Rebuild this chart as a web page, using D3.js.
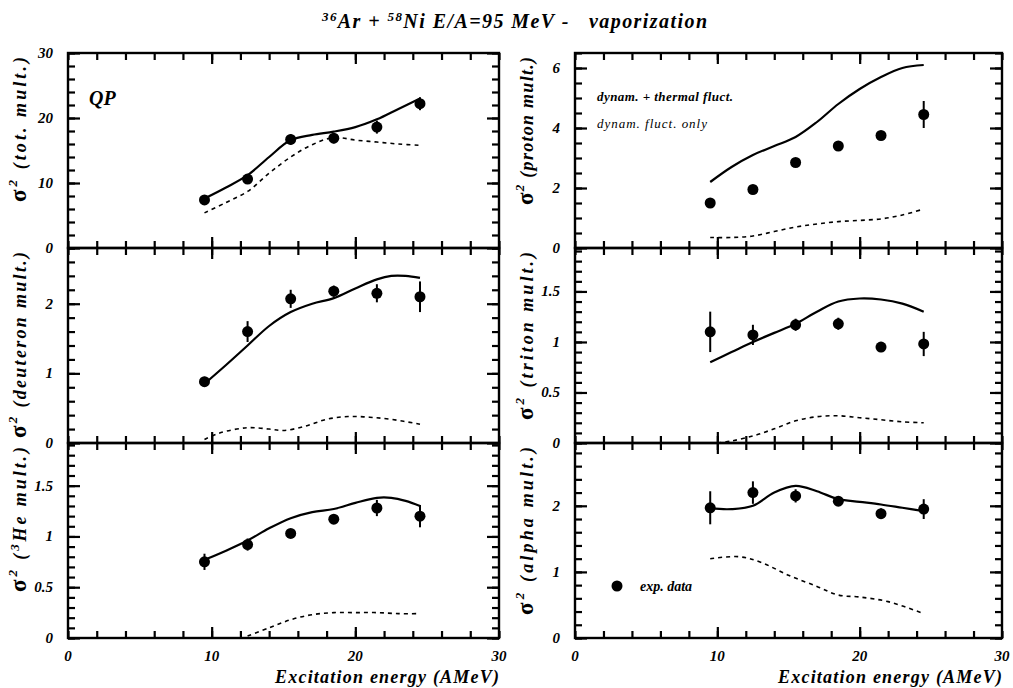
<!DOCTYPE html>
<html><head><meta charset="utf-8">
<script src="https://cdn.jsdelivr.net/npm/d3@7"></script>
<style>
body{margin:0;background:#fff;}
svg{display:block;}
text{font-family:"Liberation Serif","DejaVu Serif",serif;font-weight:bold;font-style:italic;fill:#000;}
</style></head><body>
<svg id="c" width="1013" height="688"></svg>
<script>
// ---------- data ----------
const xTickLabels = [0, 10, 20, 30];
const expEnergy = [9.5, 12.5, 15.5, 18.5, 21.5, 24.5];

const totMult = [7.4, 10.6, 16.7, 16.9, 18.6, 22.2];
const totErr = [0.7, 0.7, 0.8, 0.8, 1.0, 1.0];
const totFullE = [9.5, 11, 12.5, 14, 15.5, 17, 18.5, 20, 21.5, 23, 24.5];
const totFull = [7.6, 9.3, 11.2, 14.0, 16.6, 17.4, 17.9, 18.6, 19.8, 21.4, 23.0];
const totDynE = [9.5, 11, 12.5, 14, 15.5, 17, 18.5, 20, 21.5, 23, 24.5];
const totDyn = [5.4, 7.0, 8.7, 11.5, 14.0, 15.9, 17.0, 16.6, 16.3, 16.0, 15.8];

const protonMult = [1.5, 1.95, 2.85, 3.4, 3.75, 4.45];
const protonErr = [0.15, 0.12, 0.12, 0.12, 0.15, 0.45];
const protonFullE = [9.5, 11, 12.5, 14, 15.5, 17, 18.5, 20, 21.5, 23, 24.5];
const protonFull = [2.2, 2.7, 3.1, 3.4, 3.7, 4.2, 4.8, 5.3, 5.7, 6.0, 6.1];
const protonDynE = [9.5, 11, 12.5, 14, 15.5, 17, 18.5, 20, 21.5, 23, 24.5];
const protonDyn = [0.35, 0.35, 0.4, 0.55, 0.7, 0.8, 0.88, 0.92, 0.97, 1.1, 1.3];

const deutMult = [0.88, 1.6, 2.07, 2.18, 2.15, 2.1];
const deutErr = [0.07, 0.15, 0.13, 0.08, 0.13, 0.22];
const deutFullE = [9.5, 11, 12.5, 14, 15.5, 17, 18.5, 20, 21.5, 22.5, 23.5, 24.5];
const deutFull = [0.85, 1.12, 1.4, 1.68, 1.88, 2.0, 2.08, 2.22, 2.35, 2.4, 2.4, 2.37];
const deutDynE = [9.5, 10.5, 12.5, 14, 15, 16.5, 18, 19.5, 21, 22.5, 24.5];
const deutDyn = [0.05, 0.14, 0.22, 0.2, 0.18, 0.24, 0.34, 0.38, 0.37, 0.34, 0.27];

const tritMult = [1.1, 1.07, 1.17, 1.18, 0.95, 0.98];
const tritErr = [0.2, 0.1, 0.06, 0.06, 0.05, 0.12];
const tritFullE = [9.5, 11, 12.5, 14, 15.5, 17, 18.5, 20, 21.5, 23, 24.5];
const tritFull = [0.8, 0.9, 1.0, 1.09, 1.18, 1.3, 1.4, 1.43, 1.42, 1.38, 1.3];
const tritDynE = [10, 11, 12.5, 14, 15.5, 17, 18.5, 20, 21.5, 23, 24.5];
const tritDyn = [0.0, 0.02, 0.07, 0.14, 0.22, 0.26, 0.27, 0.25, 0.23, 0.21, 0.2];

const he3Mult = [0.75, 0.92, 1.03, 1.17, 1.28, 1.2];
const he3Err = [0.08, 0.06, 0.03, 0.04, 0.08, 0.11];
const he3FullE = [9.5, 11, 12.5, 14, 15.5, 17, 18.5, 20, 21.5, 22.5, 23.5, 24.5];
const he3Full = [0.77, 0.86, 0.96, 1.08, 1.18, 1.24, 1.27, 1.33, 1.38, 1.38, 1.35, 1.3];
const he3DynE = [12.5, 14, 15.5, 17, 18.5, 20, 21.5, 23, 24.5];
const he3Dyn = [0.02, 0.1, 0.18, 0.23, 0.25, 0.25, 0.25, 0.24, 0.24];

const alphaMult = [1.97, 2.2, 2.15, 2.07, 1.88, 1.95];
const alphaErr = [0.25, 0.17, 0.1, 0.07, 0.08, 0.15];
const alphaFullE = [9.5, 11, 12.5, 14, 15.5, 17, 18.5, 20, 21.5, 23, 24.5];
const alphaFull = [1.96, 1.95, 2.0, 2.2, 2.3, 2.22, 2.1, 2.06, 2.02, 1.97, 1.92];
const alphaDynE = [9.5, 11.5, 13, 15, 17, 18.5, 20, 22, 24.5];
const alphaDyn = [1.2, 1.23, 1.15, 0.95, 0.78, 0.65, 0.62, 0.55, 0.37];

const yLabels = ["tot. mult.", "proton mult.", "deuteron mult.", "triton mult.", "He mult.", "alpha mult."];
const titleText = ["36", "Ar + ", "58", "Ni E/A=95 MeV -   vaporization"];
const legendTexts = ["dynam. + thermal fluct.", "dynam. fluct. only", "exp. data"];
const xTitle = "Excitation energy (AMeV)";

// ---------- layout ----------
const svg = d3.select("#c");
const cols = [[68, 499], [575, 1002]];
const rows = [[53, 248], [248, 443], [443, 638]];

const panels = [
  {c:0, r:0, ymax:30, major:10, minor:2, lab:yLabels[0], labLen:145, exp:totMult, err:totErr, fe:totFullE, f:totFull, de:totDynE, d:totDyn, ticks:[0,10,20,30]},
  {c:1, r:0, ymax:6.5, major:2, minor:0.5, lab:yLabels[1], labLen:148, exp:protonMult, err:protonErr, fe:protonFullE, f:protonFull, de:protonDynE, d:protonDyn, ticks:[0,2,4,6]},
  {c:0, r:1, ymax:2.8, major:1, minor:0.2, lab:yLabels[2], labLen:186, exp:deutMult, err:deutErr, fe:deutFullE, f:deutFull, de:deutDynE, d:deutDyn, ticks:[0,1,2]},
  {c:1, r:1, ymax:1.93, major:0.5, minor:0.1, lab:yLabels[3], labLen:168, exp:tritMult, err:tritErr, fe:tritFullE, f:tritFull, de:tritDynE, d:tritDyn, ticks:[0,0.5,1,1.5]},
  {c:0, r:2, ymax:1.92, major:0.5, minor:0.1, lab:yLabels[4], labLen:145, exp:he3Mult, err:he3Err, fe:he3FullE, f:he3Full, de:he3DynE, d:he3Dyn, ticks:[0,0.5,1,1.5], he:true},
  {c:1, r:2, ymax:2.95, major:1, minor:0.2, lab:yLabels[5], labLen:168, exp:alphaMult, err:alphaErr, fe:alphaFullE, f:alphaFull, de:alphaDynE, d:alphaDyn, ticks:[0,1,2]}
];

// title
const title = svg.append("text").attr("x", 322).attr("y", 28).style("font-size", "20px")
  .attr("textLength", 385).attr("lengthAdjust", "spacing");
title.append("tspan").text(titleText[0]).attr("dy", -7).style("font-size", "13px");
title.append("tspan").text(titleText[1]).attr("dy", 7);
title.append("tspan").text(titleText[2]).attr("dy", -7).style("font-size", "13px");
title.append("tspan").text(titleText[3]).attr("dy", 7).style("white-space", "pre");

function styleAxis(sel) {
  sel.select(".domain").remove();
  sel.selectAll(".tick line").attr("stroke", "#000").attr("stroke-width", 2.2);
  sel.selectAll(".tick text").remove();
}

panels.forEach(p => {
  const [x0, x1] = cols[p.c];
  const [yt, yb] = rows[p.r];
  const x = d3.scaleLinear().domain([0, 30]).range([x0, x1]);
  const y = d3.scaleLinear().domain([0, p.ymax]).range([yb, yt]);
  const g = svg.append("g");
  const clipId = "clip" + p.c + p.r;
  svg.append("clipPath").attr("id", clipId).append("rect").attr("x", x0).attr("y", yt).attr("width", x1 - x0).attr("height", yb - yt);

  const xMinor = d3.range(0, 30.001, 2);
  const xMajor = [10, 20];
  const nMinor = Math.floor(p.ymax / p.minor + 1e-6);
  const yMinor = d3.range(0, nMinor + 1).map(i => +(i * p.minor).toFixed(4));
  const yMajor = yMinor.filter(v => Math.abs(v / p.major - Math.round(v / p.major)) < 1e-6);

  // frame
  g.append("rect").attr("x", x0).attr("y", yt).attr("width", x1 - x0).attr("height", yb - yt).attr("fill", "none").attr("stroke", "#000").attr("stroke-width", 2.4);

  // x ticks (inward) bottom & top
  g.append("g").attr("transform", `translate(0,${yb})`).call(d3.axisTop(x).tickValues(xMinor).tickSize(7).tickFormat("")).call(styleAxis);
  g.append("g").attr("transform", `translate(0,${yb})`).call(d3.axisTop(x).tickValues(xMajor).tickSize(11).tickFormat("")).call(styleAxis);
  g.append("g").attr("transform", `translate(0,${yt})`).call(d3.axisBottom(x).tickValues(xMinor).tickSize(7).tickFormat("")).call(styleAxis);
  g.append("g").attr("transform", `translate(0,${yt})`).call(d3.axisBottom(x).tickValues(xMajor).tickSize(11).tickFormat("")).call(styleAxis);
  // y ticks (inward) left & right
  g.append("g").attr("transform", `translate(${x0},0)`).call(d3.axisRight(y).tickValues(yMinor).tickSize(7).tickFormat("")).call(styleAxis);
  g.append("g").attr("transform", `translate(${x0},0)`).call(d3.axisRight(y).tickValues(yMajor).tickSize(12).tickFormat("")).call(styleAxis);
  g.append("g").attr("transform", `translate(${x1},0)`).call(d3.axisLeft(y).tickValues(yMinor).tickSize(7).tickFormat("")).call(styleAxis);
  g.append("g").attr("transform", `translate(${x1},0)`).call(d3.axisLeft(y).tickValues(yMajor).tickSize(12).tickFormat("")).call(styleAxis);

  // y tick labels
  p.ticks.forEach(v => {
    g.append("text").attr("x", x0 - 15).attr("y", y(v) + 5).attr("text-anchor", "end").style("font-size", "15px").text(v);
  });

  // y label
  const lx = x0 - 42, ly = yt + 4;
  const lt = g.append("text").attr("transform", `translate(${lx},${ly}) rotate(-90)`).attr("text-anchor", "end")
    .style("font-size", "18px").attr("textLength", p.labLen).attr("lengthAdjust", "spacing");
  lt.append("tspan").text("σ").style("font-size", "23px").style("font-style", "normal");
  lt.append("tspan").text("2").attr("dy", -9).style("font-size", "13px");
  if (p.he) {
    lt.append("tspan").text(" (").attr("dy", 9);
    lt.append("tspan").text("3").attr("dy", -7).style("font-size", "13px");
    lt.append("tspan").text(p.lab + ")").attr("dy", 7);
  } else {
    lt.append("tspan").text(" (" + p.lab + ")").attr("dy", 9);
  }

  // curves
  const line = d3.line().x(d => x(d[0])).y(d => y(d[1])).curve(d3.curveCatmullRom.alpha(0.5));
  g.append("path").attr("clip-path", `url(#${clipId})`).attr("d", line(p.fe.map((e, i) => [e, p.f[i]])))
    .attr("fill", "none").attr("stroke", "#000").attr("stroke-width", 2.2);
  g.append("path").attr("clip-path", `url(#${clipId})`).attr("d", line(p.de.map((e, i) => [e, p.d[i]])))
    .attr("fill", "none").attr("stroke", "#000").attr("stroke-width", 1.6).attr("stroke-dasharray", "4,4");

  // exp data
  expEnergy.forEach((e, i) => {
    g.append("line").attr("x1", x(e)).attr("x2", x(e)).attr("y1", y(p.exp[i] - p.err[i])).attr("y2", y(p.exp[i] + p.err[i]))
      .attr("stroke", "#000").attr("stroke-width", 2);
    g.append("circle").attr("cx", x(e)).attr("cy", y(p.exp[i])).attr("r", 5.5).attr("fill", "#000");
  });
});

// x-axis tick labels and titles (bottom row)
cols.forEach(([x0, x1]) => {
  const x = d3.scaleLinear().domain([0, 30]).range([x0, x1]);
  xTickLabels.forEach(v => {
    svg.append("text").attr("x", x(v)).attr("y", 661).attr("text-anchor", "middle").style("font-size", "15px").text(v);
  });
  svg.append("text").attr("x", x1 - 224).attr("y", 683).style("font-size", "18px")
    .attr("textLength", 224).attr("lengthAdjust", "spacing").text(xTitle);
});

// QP label
svg.append("text").attr("x", 89).attr("y", 105).style("font-size", "20px").text("QP");

// legends
svg.append("text").attr("x", 597).attr("y", 101).style("font-size", "13px").attr("textLength", 136).attr("lengthAdjust", "spacing").text(legendTexts[0]);
svg.append("text").attr("x", 597).attr("y", 128).style("font-size", "13px").style("font-weight", "normal").attr("textLength", 110).attr("lengthAdjust", "spacing").text(legendTexts[1]);
svg.append("circle").attr("cx", 617).attr("cy", 586).attr("r", 5.5).attr("fill", "#000");
svg.append("text").attr("x", 640).attr("y", 591).style("font-size", "14px").text(legendTexts[2]);
</script>
</body></html>
